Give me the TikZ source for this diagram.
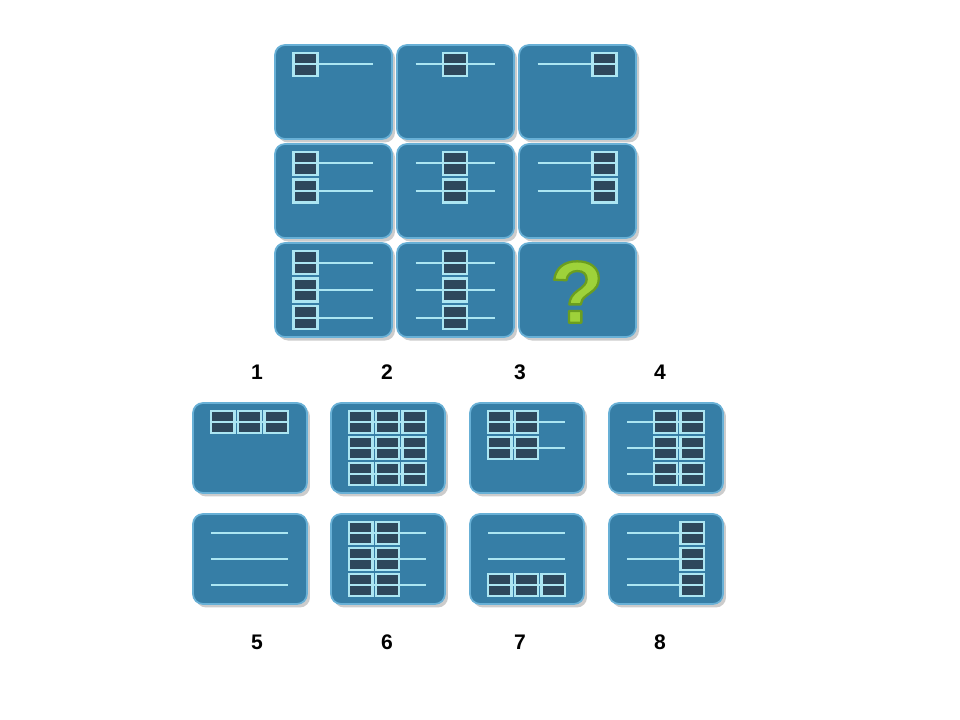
\documentclass[tikz,border=0pt]{standalone}
\usepackage{fontspec}
\setmainfont{Liberation Sans}
\usepackage{xcolor}
\usepackage{tikz}
\usetikzlibrary{shadows}
\definecolor{tileBlue}{RGB}{54,126,166}
\definecolor{tileRim}{RGB}{104,176,214}
\definecolor{beadDark}{RGB}{46,72,92}
\definecolor{railCyan}{RGB}{172,230,242}
\definecolor{qGreen}{RGB}{158,210,58}
\tikzset{
  tile/.style={fill=tileBlue, draw=tileRim, line width=0.35mm, rounded corners=2mm,
    drop shadow={shadow xshift=0.6mm, shadow yshift=-0.7mm, opacity=0.4}},
  rail/.style={draw=railCyan, line width=0.4mm},
  bead/.style={fill=beadDark, draw=railCyan, line width=0.45mm},
  optlabel/.style={font=\fontsize{12}{14}\selectfont\bfseries}
}
% one rail of the card, at height #1
\newcommand{\rail}[1]{\draw[rail] (18.5,#1) -- (97.5,#1);}
% one bead, left edge #1, rail height #2
\newcommand{\bead}[2]{\filldraw[bead] (#1,#2-11.5) rectangle ++(24,23);
  \draw[rail] (#1,#2) -- ++(24,0);}
\newcommand{\beads}[2]{\rail{#1}\foreach \p in {#2}{\bead{\p}{#1}}}
% cards of the matrix and of the answers
\newcommand{\card}[2]{\begin{scope}[shift={(#1)}]
  \filldraw[tile] (0,0) rectangle (117,94); #2 \end{scope}}
\newcommand{\answercard}[2]{\begin{scope}[shift={(#1)}, xscale=0.974, yscale=0.957]
  \filldraw[tile] (0,0) rectangle (117,94); #2 \end{scope}}
% outlined glyph
\newcommand{\outlined}[1]{\special{pdf:literal 0.42 0.62 0.12 RG 1.3 w 1 j 2 Tr}#1\special{pdf:literal 0 Tr}}

\begin{document}
\begin{tikzpicture}[x=0.2mm, y=-0.2mm]
  \fill[white] (0,0) rectangle (960,720);
  \useasboundingbox (0,0) rectangle (960,720);

  % the matrix
  \card{275,45}{\beads{19.5}{18.5}}
  \card{397,45}{\beads{19.5}{46}}
  \card{519,45}{\beads{19.5}{73.5}}
  \card{275,144}{\beads{19.5}{18.5}\beads{47}{18.5}}
  \card{397,144}{\beads{19.5}{46}\beads{47}{46}}
  \card{519,144}{\beads{19.5}{73.5}\beads{47}{73.5}}
  \card{275,243}{\beads{19.5}{18.5}\beads{47}{18.5}\beads{74.5}{18.5}}
  \card{397,243}{\beads{19.5}{46}\beads{47}{46}\beads{74.5}{46}}
  \card{519,243}{}
  \node[text=qGreen, font=\fontsize{50}{50}\selectfont\bfseries] (qmark) at (577,292) {\outlined{?}};

  % the answers
  \answercard{193,403}{\beads{19.5}{18.5,46,73.5}}
  \answercard{331,403}{\beads{19.5}{18.5,46,73.5}\beads{47}{18.5,46,73.5}\beads{74.5}{18.5,46,73.5}}
  \answercard{470,403}{\beads{19.5}{18.5,46}\beads{47}{18.5,46}}
  \answercard{609,403}{\beads{19.5}{46,73.5}\beads{47}{46,73.5}\beads{74.5}{46,73.5}}
  \answercard{193,514}{\rail{19.5}\rail{47}\rail{74.5}}
  \answercard{331,514}{\beads{19.5}{18.5,46}\beads{47}{18.5,46}\beads{74.5}{18.5,46}}
  \answercard{470,514}{\rail{19.5}\rail{47}\beads{74.5}{18.5,46,73.5}}
  \answercard{609,514}{\beads{19.5}{73.5}\beads{47}{73.5}\beads{74.5}{73.5}}

  \node[optlabel] (lab1) at (257,372) {1};
  \node[optlabel] (lab2) at (387,372) {2};
  \node[optlabel] (lab3) at (520,372) {3};
  \node[optlabel] (lab4) at (660,372) {4};
  \node[optlabel] (lab5) at (257,642) {5};
  \node[optlabel] (lab6) at (387,642) {6};
  \node[optlabel] (lab7) at (520,642) {7};
  \node[optlabel] (lab8) at (660,642) {8};
\end{tikzpicture}
\end{document}
